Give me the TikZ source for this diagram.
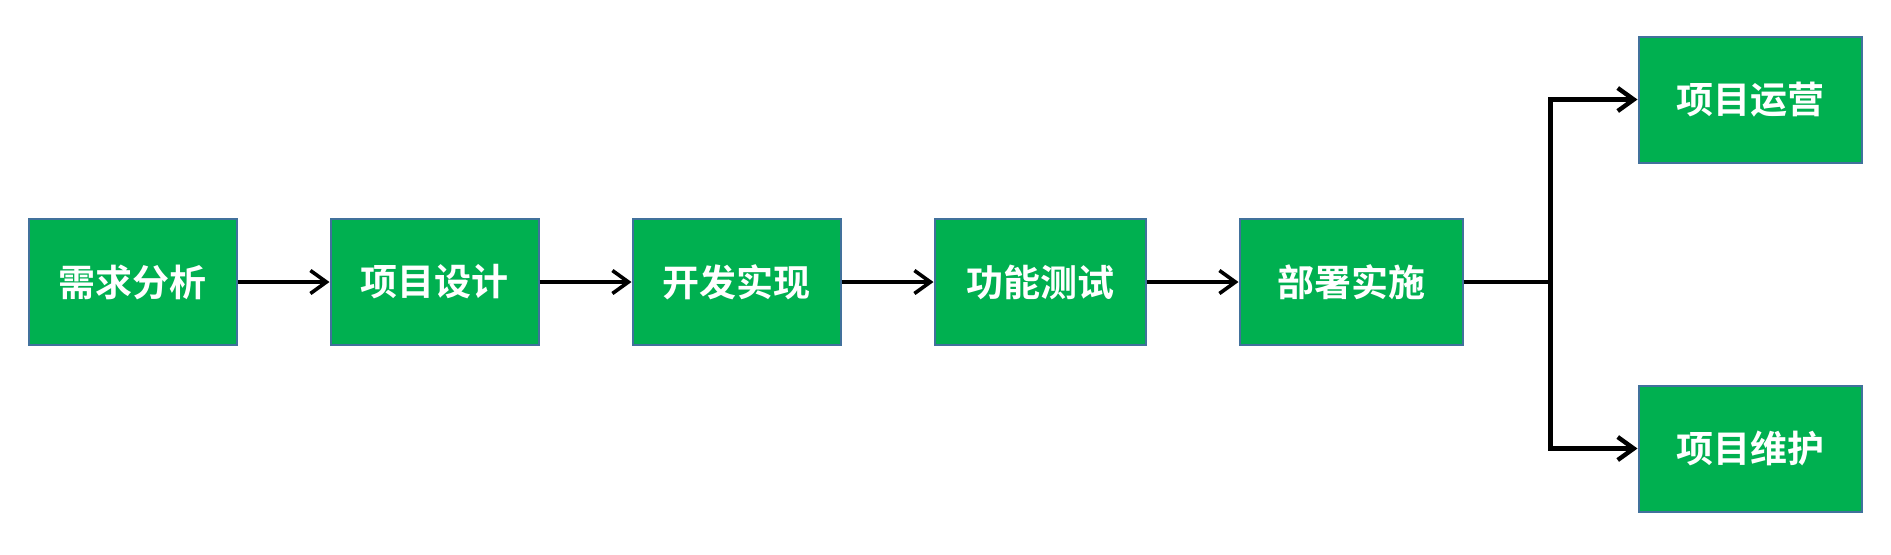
\documentclass[tikz,border=0pt]{standalone}
\usepackage{fontspec}
\newfontfamily\cjk{Noto Sans CJK SC}[BoldFont={Noto Sans CJK SC Bold}]
\usetikzlibrary{arrows.meta, positioning}
\definecolor{stagegreen}{HTML}{00B050}
\definecolor{stageedge}{HTML}{41719C}

\begin{document}
\begin{tikzpicture}[
    stage/.style={draw=stageedge, line width=1pt, fill=stagegreen, text=white,
        minimum width=104pt, minimum height=63pt,
        font=\cjk\bfseries\fontsize{18.5pt}{22pt}\selectfont},
    wide/.style={minimum width=111.5pt},
    flow/.style={-{Straight Barb[length=8pt, width=11.5pt]}, line width=1.8pt},
    branch/.style={-{Straight Barb[length=8pt, width=11.5pt]}, line width=2.2pt},
    node distance=46pt
]
    \useasboundingbox (0,0) rectangle (945.5pt,-277pt);

    % Stages
    \node[stage] (xqfx) at (66.25pt,-141pt) {需求分析};
    \node[stage, right=of xqfx] (xmsj) {项目设计};
    \node[stage, right=of xmsj] (kfsx) {开发实现};
    \node[stage, minimum width=105.5pt, right=of kfsx] (gncs) {功能测试};
    \node[stage, wide, right=of gncs] (bsss) {部署实施};
    \node[stage, wide, right=87pt of bsss, yshift=91.25pt] (xmyy) {项目运营};
    \node[stage, wide, right=87pt of bsss, yshift=-83.25pt] (xmwh) {项目维护};

    % Flow
    \draw[flow] (xqfx) -- (xmsj);
    \draw[flow] (xmsj) -- (kfsx);
    \draw[flow] (kfsx) -- (gncs);
    \draw[flow] (gncs) -- (bsss);

    % Branch
    \coordinate[right=43.5pt of bsss.east] (fork);
    \draw[branch] (bsss.east) -- (fork) |- (xmyy.west);
    \draw[branch] (bsss.east) -- (fork) |- (xmwh.west);
\end{tikzpicture}
\end{document}
